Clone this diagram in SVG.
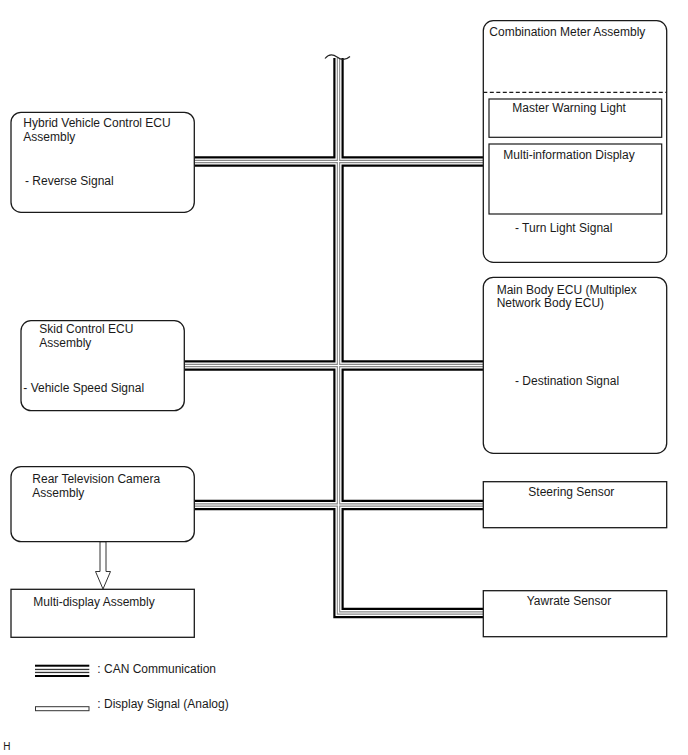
<svg xmlns="http://www.w3.org/2000/svg" xmlns:xlink="http://www.w3.org/1999/xlink" width="688" height="755" viewBox="0 0 688 755">
<style>
.box{fill:#fff;stroke:#1a1a1a;stroke-width:1.3}
.inner{fill:#fff;stroke:#1a1a1a;stroke-width:1.2}
text{font-family:"Liberation Sans",Arial,sans-serif;font-size:12px;fill:#1a1a1a}
.b1{fill:none;stroke:#000;stroke-width:10.4;stroke-linejoin:miter}
.b2{fill:none;stroke:#fff;stroke-width:6}
.b3{fill:none;stroke:#8a8a8a;stroke-width:3.4}
.b4{fill:none;stroke:#fff;stroke-width:1.2}
</style>
<defs>
<path id="bv" d="M338.5 58 V613 H483.3"/>
<path id="h1" d="M194.3 161.5 H483.3"/>
<path id="h2" d="M184.3 365.5 H483.3"/>
<path id="h3" d="M194.3 505 H483.3"/>
</defs>
<rect width="688" height="755" fill="#fff"/>
<g id="connectors">
<use xlink:href="#bv" class="b1"/><use xlink:href="#h1" class="b1"/><use xlink:href="#h2" class="b1"/><use xlink:href="#h3" class="b1"/>
<use xlink:href="#bv" class="b2"/><use xlink:href="#h1" class="b2"/><use xlink:href="#h2" class="b2"/><use xlink:href="#h3" class="b2"/>
<use xlink:href="#bv" class="b3"/><use xlink:href="#h1" class="b3"/><use xlink:href="#h2" class="b3"/><use xlink:href="#h3" class="b3"/>
<use xlink:href="#bv" class="b4"/><use xlink:href="#h1" class="b4"/><use xlink:href="#h2" class="b4"/><use xlink:href="#h3" class="b4"/>
<path d="M325 58.5 C329 53.5 333 54 337 57 C341 60 345 61 350 56.5" fill="none" stroke="#222" stroke-width="1.2"/>
<polygon points="100,541.7 100,571.5 95.5,571.5 103,589 110.5,571.5 106,571.5 106,541.7" fill="#fff" stroke="#333" stroke-width="1"/>
</g>
<g id="hv-ecu">
<rect class="box" x="11" y="112.3" width="183.3" height="100" rx="10"/>
<text x="23.3" y="127.3">Hybrid Vehicle Control ECU</text>
<text x="23.3" y="140.7">Assembly</text>
<text x="25" y="185">- Reverse Signal</text>
</g>
<g id="skid-ecu">
<rect class="box" x="21" y="320.7" width="163.3" height="90" rx="10"/>
<text x="39.3" y="333.3">Skid Control ECU</text>
<text x="39.3" y="346.7">Assembly</text>
<text x="23.3" y="391.7">- Vehicle Speed Signal</text>
</g>
<g id="rear-camera">
<rect class="box" x="11" y="466.7" width="183.3" height="75" rx="10"/>
<text x="32.3" y="483.3">Rear Television Camera</text>
<text x="32.3" y="496.7">Assembly</text>
</g>
<g id="multi-display">
<rect class="box" x="11" y="589.3" width="183.3" height="48"/>
<text x="33.3" y="606">Multi-display Assembly</text>
</g>
<g id="combination-meter">
<rect class="box" x="483.3" y="20.7" width="183.4" height="241.6" rx="10"/>
<text x="489.3" y="35.7">Combination Meter Assembly</text>
<line x1="483.3" y1="92.3" x2="666.7" y2="92.3" stroke="#1a1a1a" stroke-width="1.2" stroke-dasharray="4,2.5"/>
<rect class="inner" x="489" y="99" width="172.7" height="38.3"/>
<text x="512.3" y="112.3">Master Warning Light</text>
<rect class="inner" x="489" y="144" width="172.7" height="70"/>
<text x="503.3" y="159">Multi-information Display</text>
<text x="515" y="231.7">- Turn Light Signal</text>
</g>
<g id="main-body-ecu">
<rect class="box" x="483.3" y="277.3" width="183.4" height="176" rx="10"/>
<text x="496.7" y="294">Main Body ECU (Multiplex</text>
<text x="496.7" y="307.3">Network Body ECU)</text>
<text x="515" y="385">- Destination Signal</text>
</g>
<g id="steering-sensor">
<rect class="box" x="483.3" y="481.7" width="183.4" height="46"/>
<text x="528.3" y="496">Steering Sensor</text>
</g>
<g id="yawrate-sensor">
<rect class="box" x="483.3" y="590.7" width="183.4" height="46"/>
<text x="526.7" y="605">Yawrate Sensor</text>
</g>
<g id="legend">
<rect x="35" y="664.7" width="54.3" height="2" fill="#000"/>
<rect x="35" y="668.8" width="54.3" height="1.3" fill="#333"/>
<rect x="35" y="671.8" width="54.3" height="1.3" fill="#333"/>
<rect x="35" y="675" width="54.3" height="2" fill="#000"/>
<text x="97.3" y="673.3">: CAN Communication</text>
<rect x="35.5" y="706.7" width="53.5" height="4" fill="#fff" stroke="#333" stroke-width="1"/>
<text x="97.3" y="708">: Display Signal (Analog)</text>
<text x="3.3" y="750" style="font-size:10px">H</text>
</g>
</svg>
